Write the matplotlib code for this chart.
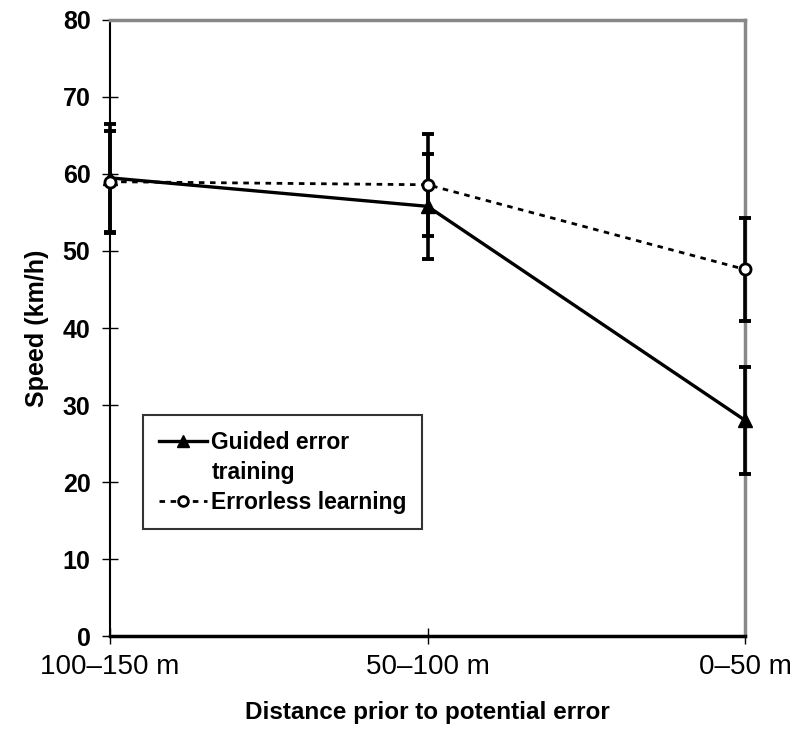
import matplotlib.pyplot as plt
import numpy as np

plt.rcParams['font.family'] = ['Liberation Sans', 'DejaVu Sans']

# data
distances = ["100\u2013150 m", "50\u2013100 m", "0\u201350 m"]
guided_mean = [59.5, 55.8, 28.0]
guided_err = [7.0, 6.8, 7.0]
errorless_mean = [59.0, 58.6, 47.6]
errorless_err = [6.6, 6.6, 6.7]

x = np.arange(len(distances))

fig = plt.figure(figsize=(7.97, 7.40), dpi=100)
ax = fig.add_axes([0.138, 0.1405, 0.797, 0.8325])

# error bars first, then lines on top
for m, e in ((guided_mean, guided_err), (errorless_mean, errorless_err)):
    eb = ax.errorbar(x, m, yerr=e, fmt="none", ecolor="black",
                     elinewidth=2.6, capsize=4.5, capthick=2.8, zorder=3)
    for art in eb.get_children():
        art.set_clip_on(False)

ax.plot(x, guided_mean, "k-", marker="^", markersize=10, lw=2.4,
        clip_on=False, zorder=4)
ax.plot(x, errorless_mean, color="black", ls=(0, (2, 2)), lw=2.0, marker="o",
        markersize=8, markerfacecolor="white", markeredgewidth=2.0,
        clip_on=False, zorder=5)

ax.set_xlim(0, 2)
ax.set_ylim(0, 80)
ax.set_yticks(np.arange(0, 81, 10))
ax.set_xticks(x)
ax.set_xticklabels(distances, fontsize=20)
for lab in ax.get_yticklabels():
    lab.set_fontsize(18)
    lab.set_fontweight("bold")
ax.tick_params(axis="y", direction="inout", length=12, width=1, pad=8)
ax.tick_params(axis="x", direction="inout", length=12, width=1, pad=7)

for side in ("top", "right"):
    ax.spines[side].set_color("#888888")
    ax.spines[side].set_linewidth(2.5)
ax.spines["left"].set_linewidth(1.5)
ax.spines["bottom"].set_linewidth(2.5)

ax.set_xlabel("Distance prior to potential error", fontsize=17.5,
              fontweight="bold", labelpad=15)
ax.set_ylabel("Speed (km/h)", fontsize=18, fontweight="bold", labelpad=10)

# legend: second line of the first label carries no handle, as in the source
h_guided = plt.Line2D([], [], color="black", lw=2.4, marker="^", markersize=9)
h_blank = plt.Line2D([], [], color="none")
h_errless = plt.Line2D([], [], color="black", ls=(0, (2, 2)), lw=2.0,
                       marker="o", markersize=7, markerfacecolor="white",
                       markeredgewidth=2.0)
leg = ax.legend([h_guided, h_blank, h_errless],
                ["Guided error", "training", "Errorless learning"],
                loc="upper left", bbox_to_anchor=(0.052, 0.358),
                prop={"size": 16.5, "weight": "bold"}, frameon=True,
                fancybox=False, handlelength=2.1, handletextpad=0.2,
                borderpad=0.68, labelspacing=0.3, borderaxespad=0)
leg.get_frame().set_edgecolor("black")
leg.get_frame().set_linewidth(1.5)

fig.savefig("out.png", dpi=100)
